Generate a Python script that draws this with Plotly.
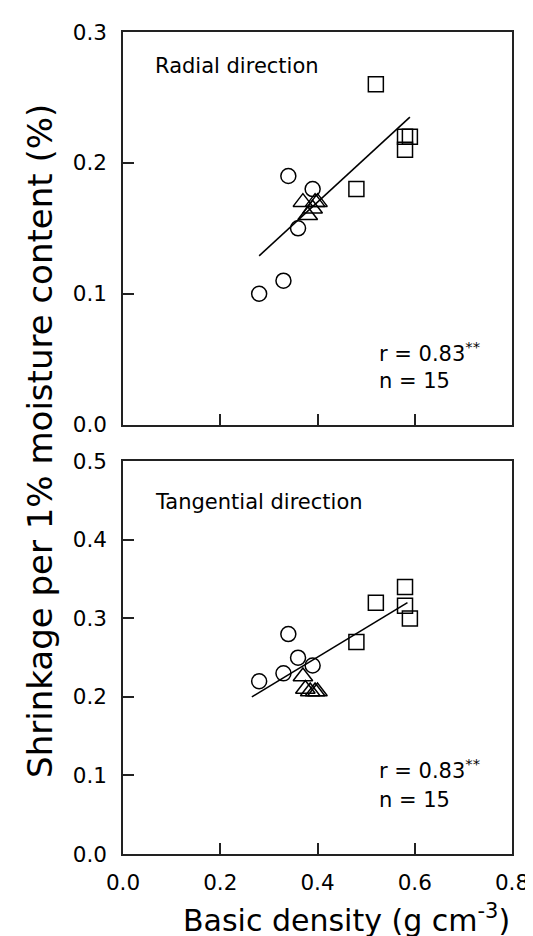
import plotly.graph_objects as go
from plotly.subplots import make_subplots

# ---------------- data ----------------
rad_circ_x = [0.28, 0.33, 0.34, 0.36, 0.39]
rad_circ_y = [0.10, 0.11, 0.19, 0.15, 0.18]
rad_tri_x = [0.37, 0.38, 0.39, 0.395, 0.40]
rad_tri_y = [0.17, 0.16, 0.165, 0.17, 0.17]
rad_sq_x = [0.48, 0.52, 0.58, 0.58, 0.59]
rad_sq_y = [0.18, 0.26, 0.21, 0.22, 0.22]
rad_fit_x = [0.28, 0.59]
rad_fit_y = [0.129, 0.235]

tan_circ_x = [0.28, 0.33, 0.34, 0.36, 0.39]
tan_circ_y = [0.22, 0.23, 0.28, 0.25, 0.24]
tan_tri_x = [0.37, 0.375, 0.385, 0.395, 0.40]
tan_tri_y = [0.226, 0.21, 0.207, 0.207, 0.207]
tan_sq_x = [0.48, 0.52, 0.58, 0.58, 0.59]
tan_sq_y = [0.27, 0.32, 0.34, 0.316, 0.30]
tan_fit_x = [0.265, 0.585]
tan_fit_y = [0.20, 0.32]

x_ticks = [0.0, 0.2, 0.4, 0.6, 0.8]
rad_y_ticks = [0.0, 0.1, 0.2, 0.3]
tan_y_ticks = [0.0, 0.1, 0.2, 0.3, 0.4, 0.5]

FONT = "DejaVu Sans, Arial, sans-serif"
INK = "#222"

fig = make_subplots(rows=2, cols=1, vertical_spacing=0.0446)

def add_panel(row, cx, cy, tx, ty, sx, sy, fx, fy):
    mk = dict(color="black", line=dict(color="black", width=1.5))
    fig.add_trace(go.Scatter(x=fx, y=fy, mode="lines",
                             line=dict(color="black", width=1.6)), row=row, col=1)
    fig.add_trace(go.Scatter(x=cx, y=cy, mode="markers",
                             marker=dict(symbol="circle-open", size=15, **mk)), row=row, col=1)
    fig.add_trace(go.Scatter(x=tx, y=ty, mode="markers",
                             marker=dict(symbol="triangle-up-open", size=17, **mk)), row=row, col=1)
    fig.add_trace(go.Scatter(x=sx, y=sy, mode="markers",
                             marker=dict(symbol="square-open", size=15, **mk)), row=row, col=1)

add_panel(1, rad_circ_x, rad_circ_y, rad_tri_x, rad_tri_y, rad_sq_x, rad_sq_y, rad_fit_x, rad_fit_y)
add_panel(2, tan_circ_x, tan_circ_y, tan_tri_x, tan_tri_y, tan_sq_x, tan_sq_y, tan_fit_x, tan_fit_y)

axis_common = dict(showline=True, linecolor=INK, linewidth=1.5, mirror=True,
                   ticks="inside", ticklen=11, tickwidth=1.5, tickcolor=INK,
                   showgrid=False, zeroline=False,
                   tickfont=dict(family=FONT, size=21.5, color="black"))

fig.update_xaxes(range=[0, 0.8], tickvals=x_ticks, ticklabelstandoff=8, **axis_common)
fig.update_xaxes(showticklabels=False, row=1, col=1)
fig.update_xaxes(ticktext=[f"{v:.1f}" for v in x_ticks], row=2, col=1)
fig.update_yaxes(range=[0, 0.3], tickvals=rad_y_ticks, ticklabelstandoff=10,
                 ticktext=[f"{v:.1f}" for v in rad_y_ticks], row=1, col=1, **axis_common)
fig.update_yaxes(range=[0, 0.5], tickvals=tan_y_ticks, ticklabelstandoff=10,
                 ticktext=[f"{v:.1f}" for v in tan_y_ticks], row=2, col=1, **axis_common)

def px_x(p):
    return (p - 115) / 400.0

def px_y(p):
    return (846 - p) / 831.0

ann_font = dict(family=FONT, size=21, color="black")
anns = [
    dict(text="Radial direction", x=px_x(146), y=px_y(49), xanchor="left", yanchor="middle"),
    dict(text="Tangential direction", x=px_x(146), y=px_y(490), xanchor="left", yanchor="middle"),
    dict(text="r = 0.83<sup>**</sup>", x=px_x(376), y=px_y(338), xanchor="left", yanchor="middle"),
    dict(text="n = 15", x=px_x(376), y=px_y(368), xanchor="left", yanchor="middle"),
    dict(text="r = 0.83<sup>**</sup>", x=px_x(376), y=px_y(760), xanchor="left", yanchor="middle"),
    dict(text="n = 15", x=px_x(376), y=px_y(791), xanchor="left", yanchor="middle"),
]
for a in anns:
    fig.add_annotation(xref="paper", yref="paper", showarrow=False, font=ann_font, **a)

fig.add_annotation(xref="paper", yref="paper", showarrow=False,
                   text="Shrinkage per 1% moisture content (%)", textangle=-90,
                   x=px_x(29), y=px_y(428), xanchor="center", yanchor="middle",
                   font=dict(family=FONT, size=34, color="black"))
fig.add_annotation(xref="paper", yref="paper", showarrow=False,
                   text="Basic density (g cm<sup>-3</sup>)",
                   x=px_x(345), y=px_y(933), xanchor="center", yanchor="bottom",
                   font=dict(family=FONT, size=30, color="black"))

fig.update_layout(width=533, height=936, showlegend=False,
                  margin=dict(l=115, r=18, t=15, b=90),
                  paper_bgcolor="white", plot_bgcolor="white")

fig.write_html("out.html")
